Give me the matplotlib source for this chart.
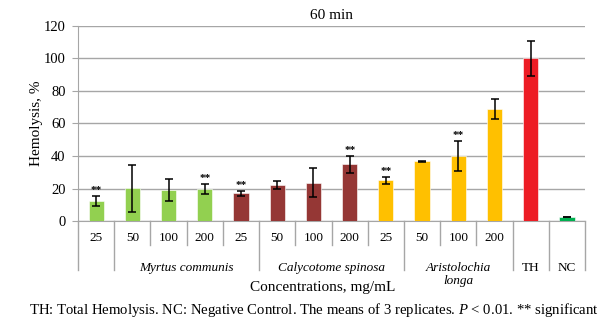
import matplotlib.pyplot as plt
import matplotlib.transforms as mtransforms
import numpy as np

plt.rcParams['font.family'] = ['Liberation Serif', 'DejaVu Serif']
plt.rcParams['mathtext.fontset'] = 'custom'
plt.rcParams['mathtext.rm'] = 'Liberation Serif'
plt.rcParams['mathtext.it'] = 'Liberation Serif:italic'

conc_labels = ["25", "50", "100", "200", "25", "50", "100", "200",
               "25", "50", "100", "200", "", ""]
hemolysis = [12.3, 20.1, 19.3, 19.9, 17.0, 22.2, 23.6, 34.9,
             25.2, 36.7, 40.0, 68.7, 100.0, 2.5]
errors = [3.0, 14.5, 6.7, 3.2, 1.6, 2.3, 9.0, 5.2,
          2.2, 0.4, 9.2, 6.2, 10.5, 0.3]
significant = [True, False, False, True, True, False, False, True,
               True, False, True, False, False, False]
bar_colors = ["#92D050"] * 4 + ["#953735"] * 4 + ["#FFC000"] * 4 + ["#ED1C24", "#00B050"]

# group label, first slot, last slot (exclusive)
groups = [("", 0, 1), ("Myrtus communis", 1, 5), ("Calycotome spinosa", 5, 9),
          ("Aristolochia\nlonga", 9, 12), ("TH", 12, 13), ("NC", 13, 14)]

fig = plt.figure(figsize=(6.12, 3.28), dpi=100)
ax = fig.add_axes([0.1275, 0.326, 0.8285, 0.595])

x = np.arange(len(hemolysis))
ax.bar(x, hemolysis, width=0.42, color=bar_colors, edgecolor="white", linewidth=0.4, zorder=3)
ax.errorbar(x, hemolysis, yerr=errors, fmt="none", ecolor="black", elinewidth=1.1,
            capsize=3, capthick=1.1, zorder=4)

for xi, v, e, s in zip(x, hemolysis, errors, significant):
    if s:
        ax.text(xi, v + e + 0.6, "**", ha="center", va="bottom", fontsize=8, fontweight="bold")

ax.set_xlim(-0.5, len(hemolysis) - 0.5)
ax.set_ylim(0, 120)
ax.set_yticks(np.arange(0, 121, 20))
ax.tick_params(axis="y", labelsize=10.5, length=4, color="#A6A6A6", pad=5)
ax.set_xticks([])
ax.yaxis.grid(True, color="#A6A6A6", linewidth=1)
ax.set_axisbelow(True)
for side in ["top", "right"]:
    ax.spines[side].set_visible(False)
ax.spines["left"].set_color("#A6A6A6")
ax.spines["bottom"].set_color("#A6A6A6")

trans = mtransforms.blended_transform_factory(ax.transData, ax.transAxes)

# concentration labels and short dividers
for xi, lab in zip(x, conc_labels):
    ax.text(xi, -0.088, lab, transform=trans, ha="center", va="center", fontsize=9.5)
boundaries_long = set()
for name, a, b in groups:
    boundaries_long.update([a, b])
    ax.text((a + b - 1) / 2, -0.21, name, transform=trans, ha="center", va="top",
            fontsize=9.5, style="italic" if name not in ("TH", "NC") else "normal",
            linespacing=1.1)
for k in range(len(hemolysis) + 1):
    low = -0.252 if k in boundaries_long else -0.125
    ax.plot([k - 0.5, k - 0.5], [0, low], transform=trans, color="#A6A6A6",
            linewidth=1, clip_on=False)

ax.set_title("60 min", fontsize=11, pad=5)
ax.set_ylabel("Hemolysis, %", fontsize=11)
ax.yaxis.set_label_coords(-0.07, 0.5)
fig.text(0.527, 0.125, "Concentrations, mg/mL", ha="center", va="center", fontsize=11)
fig.text(0.047, 0.055, r"TH: Total Hemolysis. NC: Negative Control. The means of 3 replicates. $\mathit{P}$ < 0.01. ** significant",
         ha="left", va="center", fontsize=10.6)

fig.savefig("out.png", dpi=100)
